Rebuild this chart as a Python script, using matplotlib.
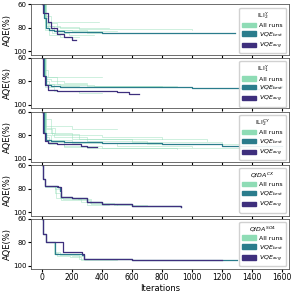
import numpy as np
import matplotlib.pyplot as plt
from matplotlib.patches import Patch

plt.rcParams['font.size'] = 5.5

# colours
c_runs = '#8edcb5'
c_best = '#2a7c8c'
c_avg = '#3e2f7d'

titles = [r'ILI$_2^Y$', r'ILI$_1^Y$', r'ILI$_2^{CY}$', r'$QIDA^{CX}$', r'$QIDA^{SO4}$']

# VQE best (step curves: iteration, AQE)
best_x = [
    [0, 15, 30, 50, 80, 150, 400, 700, 1290],
    [0, 15, 30, 60, 120, 400, 1000, 1400, 1470, 1600],
    [0, 15, 30, 60, 150, 400, 800, 1200, 1600],
    [0, 5, 20, 100, 120, 130, 200, 300, 400, 600, 930],
    [0, 5, 30, 80, 90, 270, 280, 600, 1300],
]
best_y = [
    [60, 72, 80, 82, 83, 83.5, 84, 84.5, 84.5],
    [60, 75, 83, 84, 84.5, 85, 85.5, 86, 84.5, 84],
    [60, 78, 84, 85, 86, 87, 88, 89, 89.5],
    [60, 72, 78, 79, 82, 87, 88, 91, 93, 95, 96],
    [60, 73, 80, 80, 90, 91, 94, 95, 95],
]

# VQE avg
avg_x = [
    [0, 10, 40, 60, 100, 150, 200, 230],
    [0, 10, 20, 40, 100, 300, 500, 580, 650],
    [0, 10, 20, 40, 100, 200, 260, 300, 365],
    [0, 5, 20, 110, 130, 200, 300, 400, 600, 930],
    [0, 5, 30, 130, 140, 270, 280, 600, 1200],
]
avg_y = [
    [60, 67, 75, 80, 85, 88, 90, 90],
    [60, 75, 83, 87, 88.5, 88.5, 89, 90.5, 91],
    [60, 78, 85, 87, 87.5, 87.5, 89, 90, 90],
    [60, 72, 78, 79, 87, 88, 91, 93, 95, 96],
    [60, 73, 80, 80, 88, 90, 94, 95, 95],
]

# individual runs: (x points, y points)
runs = [
    [([0, 20, 60, 200, 380], [60, 70, 75, 75, 75]),
     ([0, 20, 50, 120, 450], [60, 75, 78, 80, 80]),
     ([0, 15, 40, 100, 300, 600], [60, 72, 80, 82, 84, 84]),
     ([0, 25, 80, 200, 500], [60, 78, 82, 83, 83]),
     ([0, 20, 70, 180, 350], [60, 80, 84, 86, 86]),
     ([0, 30, 100, 250, 1000], [60, 76, 79, 81, 82]),
     ([0, 20, 50, 120, 250], [60, 82, 86, 88, 88])],
    [([0, 15, 40, 200, 400], [60, 70, 76, 76, 76]),
     ([0, 20, 60, 150, 300], [60, 78, 80, 81, 81]),
     ([0, 20, 50, 120, 350, 800], [60, 80, 82, 83, 84, 84]),
     ([0, 25, 80, 250, 600], [60, 82, 84, 85, 85]),
     ([0, 20, 100, 300, 900], [60, 76, 82, 84, 84]),
     ([0, 20, 80, 250, 400], [60, 85, 88, 90, 90])],
    [([0, 20, 60, 200, 500], [60, 66, 72, 75, 75]),
     ([0, 20, 60, 200, 400, 800], [60, 72, 78, 80, 82, 83]),
     ([0, 20, 70, 200, 600, 1200], [60, 75, 80, 83, 86, 87]),
     ([0, 25, 80, 300, 700, 1500], [60, 78, 82, 85, 88, 90]),
     ([0, 20, 60, 200, 500, 1000], [60, 80, 84, 87, 89, 90]),
     ([0, 20, 50, 150, 400, 900], [60, 82, 86, 89, 91, 92]),
     ([0, 20, 50, 150, 300, 1600], [60, 84, 88, 90, 91, 92]),
     ([0, 30, 90, 250, 1100], [60, 74, 79, 83, 85])],
    [([0, 5, 20, 90, 130, 230, 320, 480, 700], [60, 72, 78, 80, 90, 90, 92, 94, 95]),
     ([0, 5, 20, 85, 120, 240, 330, 500], [60, 72, 78, 84, 88, 89, 93, 94]),
     ([0, 5, 20, 95, 140, 260, 300, 450], [60, 72, 79, 88, 89, 91, 94, 94])],
    [([0, 5, 30, 80, 100, 190, 260, 500], [60, 73, 80, 90, 92, 93, 95, 95]),
     ([0, 5, 30, 90, 120, 200, 280, 600], [60, 73, 80, 88, 91, 92, 94, 95]),
     ([0, 5, 30, 85, 110, 210, 250, 400], [60, 73, 80, 89, 90, 91, 94, 94])],
]

fig, axes = plt.subplots(5, 1, figsize=(2.92, 2.92), dpi=100, sharex=True)
fig.subplots_adjust(left=0.105, right=0.99, top=0.985, bottom=0.078, hspace=0.06)

for i, ax in enumerate(axes):
    for rx, ry in runs[i]:
        ax.step(rx, ry, where='post', color=c_runs, lw=0.5, alpha=0.6)
    ax.step(best_x[i], best_y[i], where='post', color=c_best, lw=0.9)
    ax.step(avg_x[i], avg_y[i], where='post', color=c_avg, lw=0.9)
    ax.set_ylim(103, 60)
    ax.set_yticks([60, 80, 100])
    ax.set_xlim(-75, 1650)
    ax.set_xticks(np.arange(0, 1601, 200))
    ax.set_ylabel('AQE(%)', fontsize=6, labelpad=1)
    ax.tick_params(labelsize=5, length=2, pad=1)
    for s in ax.spines.values():
        s.set_linewidth(0.6)
        s.set_edgecolor('#555555')
    handles = [Patch(color=c_runs, label='All runs'),
               Patch(color=c_best, label=r'$VQE_{best}$'),
               Patch(color=c_avg, label=r'$VQE_{avg}$')]
    ax.legend(handles=handles, title=titles[i], loc='upper right',
              fontsize=4.5, title_fontsize=4.5, handlelength=2.2,
              handleheight=0.7, labelspacing=0.3, borderpad=0.4,
              handletextpad=0.5, framealpha=0.9)

axes[-1].tick_params(axis='x', labelsize=5.5)
axes[-1].set_xlabel('Iterations', fontsize=6, labelpad=1)
fig.savefig('out.png', dpi=100)
